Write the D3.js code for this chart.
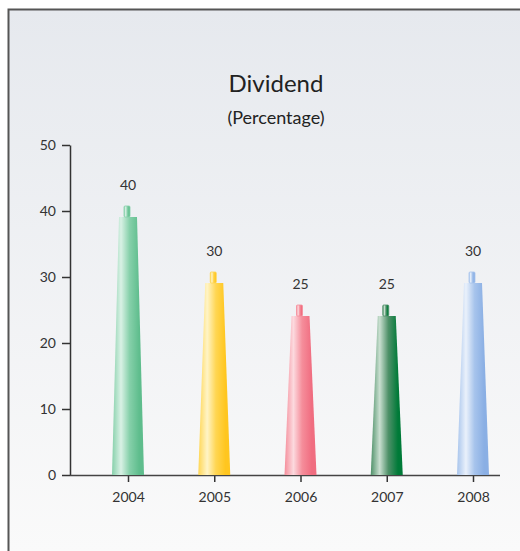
<!DOCTYPE html>
<html>
<head>
<meta charset="utf-8">
<script src="https://cdn.jsdelivr.net/npm/d3@7"></script>
<style>
  html, body { margin: 0; padding: 0; background: #fff; }
  svg { display: block; font-family: Lato, "Open Sans", sans-serif; }
</style>
</head>
<body>
<svg id="viz" width="520" height="551"></svg>
<script>
/* Dividend tapered-column chart */

const years    = ["2004", "2005", "2006", "2007", "2008"];
const dividend = [40, 30, 25, 25, 30];
const yTicks   = [0, 10, 20, 30, 40, 50];
// [edge, highlight, deep] per column
const palette  = [
  ["#86d0aa", "#d9f1e5", "#5fbd8d"],
  ["#ffd653", "#fff4c6", "#ffc61f"],
  ["#f58e9b", "#fcd9de", "#f06d80"],
  ["#4f9169", "#c9dfd0", "#007a38"],
  ["#a7c4ec", "#eaf1fb", "#8aafe4"]
];

const svg = d3.select("#viz");
const W = 520, H = 551;

/* -- Background + frame --------------------------------------------------- */
const defs = svg.append("defs");
const bg = defs.append("linearGradient").attr("id", "bg")
  .attr("x1", 0).attr("y1", 0).attr("x2", 0).attr("y2", 1);
bg.append("stop").attr("offset", "0%").attr("stop-color", "#e6e9ee");
bg.append("stop").attr("offset", "100%").attr("stop-color", "#fafafa");

svg.append("rect").attr("x", 8).attr("y", 9).attr("width", W - 8).attr("height", H - 9)
  .attr("fill", "url(#bg)");
svg.append("path")
  .attr("d", `M8.5,${H} V9.5 H${W}`)
  .attr("fill", "none").attr("stroke", "#555").attr("stroke-width", 2);

/* -- Titles --------------------------------------------------------------- */
svg.append("text").attr("x", 276).attr("y", 92)
  .attr("text-anchor", "middle").attr("font-size", 24).attr("fill", "#222")
  .text("Dividend");
svg.append("text").attr("x", 276).attr("y", 124)
  .attr("text-anchor", "middle").attr("font-size", 18).attr("fill", "#222")
  .text("(Percentage)");

/* -- Scales --------------------------------------------------------------- */
const y = d3.scaleLinear().domain([0, 50]).range([475, 145]);
const x = d3.scalePoint().domain(years).range([128, 473]);

/* -- Axes ----------------------------------------------------------------- */
const yAxis = svg.append("g").attr("transform", "translate(70,0)")
  .call(d3.axisLeft(y).tickValues(yTicks).tickSize(8).tickPadding(6).tickSizeOuter(0));
yAxis.select(".domain").attr("stroke", "#333").attr("stroke-width", 1.5);
yAxis.selectAll(".tick line").attr("stroke", "#333").attr("stroke-width", 1.5);
yAxis.selectAll(".tick text").attr("font-size", 14).attr("fill", "#333")
  .attr("font-family", "Lato, 'Open Sans', sans-serif");

const xAxis = svg.append("g").attr("transform", "translate(0,475)")
  .call(d3.axisBottom(x).tickSize(7).tickPadding(10).tickSizeOuter(0));
xAxis.select(".domain").remove();
xAxis.selectAll(".tick line").attr("stroke", "#333").attr("stroke-width", 1.5);
xAxis.selectAll(".tick text").attr("font-size", 14).attr("fill", "#333")
  .attr("font-family", "Lato, 'Open Sans', sans-serif");
svg.append("line").attr("x1", 70).attr("x2", 500).attr("y1", 475.5).attr("y2", 475.5)
  .attr("stroke", "#444").attr("stroke-width", 1.5);

/* -- Column gradients ----------------------------------------------------- */
palette.forEach((c, i) => {
  const g = defs.append("linearGradient").attr("id", "col" + i)
    .attr("x1", 0).attr("y1", 0).attr("x2", 1).attr("y2", 0);
  [[0, c[0]], [0.28, c[1]], [0.55, c[0]], [0.85, c[2]], [1, c[2]]].forEach(([o, col]) =>
    g.append("stop").attr("offset", o).attr("stop-color", col));
});

/* -- Tapered columns ------------------------------------------------------ */
const halfBottom = 16, halfTop = 9, nubHalf = 3;
const cols = svg.append("g").selectAll("g").data(years).join("g");

cols.append("path")
  .attr("d", (d, i) => {
    const cx = x(d), top = y(dividend[i]) + 6, base = y(0);
    return `M${cx - halfBottom},${base} L${cx - halfTop},${top} L${cx + halfTop},${top} L${cx + halfBottom},${base} Z`;
  })
  .attr("fill", (d, i) => `url(#col${i})`);

// small cap on top of each column
cols.append("rect")
  .attr("x", d => x(d) - nubHalf - 1)
  .attr("y", (d, i) => y(dividend[i]) - 5)
  .attr("width", nubHalf * 2)
  .attr("height", 11)
  .attr("rx", 1)
  .attr("fill", (d, i) => `url(#col${i})`)
  .attr("stroke", (d, i) => palette[i][0]).attr("stroke-width", 0.8);

/* -- Value labels --------------------------------------------------------- */
svg.append("g").selectAll("text").data(years).join("text")
  .attr("x", d => x(d))
  .attr("y", (d, i) => y(dividend[i]) - 21)
  .attr("text-anchor", "middle").attr("font-size", 14).attr("fill", "#333")
  .text((d, i) => dividend[i]);
</script>
</body>
</html>
